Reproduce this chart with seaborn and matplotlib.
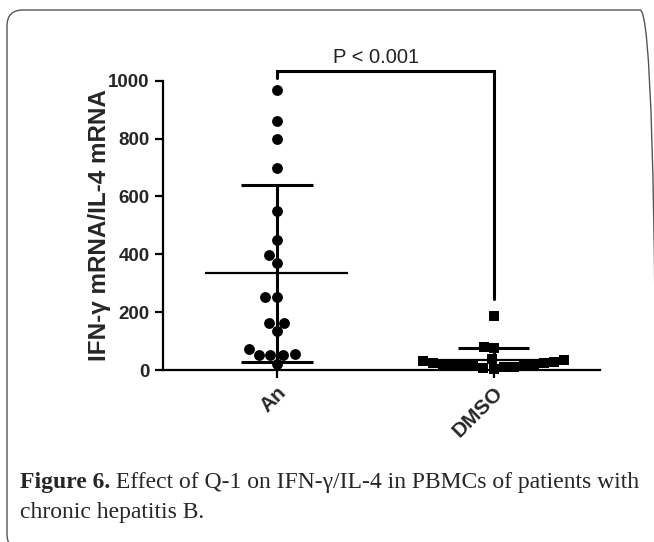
import matplotlib
matplotlib.use("Agg")
import matplotlib.pyplot as plt
import seaborn as sns
import numpy as np
import pandas as pd
from matplotlib.patches import FancyBboxPatch
from matplotlib.transforms import IdentityTransform

# values
groups = ["An", "DMSO"]
an_values = [968, 862, 798, 699, 550, 449, 397, 369, 253, 253,
             164, 164, 136, 71, 55, 52, 52, 52, 21]
dmso_values = [187, 80, 75, 38, 35, 30, 28, 25, 25, 22,
               20, 20, 18, 15, 15, 12, 10, 8, 5]
y_ticks = [0, 200, 400, 600, 800, 1000]
p_text = "P < 0.001"
y_label = "IFN-γ mRNA/IL-4 mRNA"
caption_bold = "Figure 6."
caption_line1 = " Effect of Q-1 on IFN-γ/IL-4 in PBMCs of patients with"
caption_line2 = "chronic hepatitis B."

df = pd.DataFrame({
    "group": ["An"] * len(an_values) + ["DMSO"] * len(dmso_values),
    "value": an_values + dmso_values,
})

sns.set_style("ticks")
plt.rcParams["font.family"] = ["Liberation Sans", "DejaVu Sans"]

fig = plt.figure(figsize=(6.54, 5.42), dpi=100)
fig.patch.set_facecolor("white")
ax = fig.add_axes([0.2492, 0.3173, 0.668, 0.5338])
ax.set_facecolor("white")

# scatter columns
sns.swarmplot(data=df[df.group == "An"], x="group", y="value", order=groups,
              marker="o", size=7.8, color="black", linewidth=0, ax=ax,
              clip_on=False, zorder=3)
sns.swarmplot(data=df[df.group == "DMSO"], x="group", y="value", order=groups,
              marker="s", size=7.0, color="black", linewidth=0, ax=ax,
              clip_on=False, zorder=3)

# mean and SD
for i, vals in enumerate([an_values, dmso_values]):
    m = np.mean(vals)
    s = np.std(vals, ddof=1)
    ax.hlines(m, i - 0.33, i + 0.33, color="black", lw=1.6, zorder=4)
    ax.vlines(i, max(m - s, 0), m + s, color="black", lw=2.2, zorder=4)
    ax.hlines([m - s, m + s], i - 0.165, i + 0.165, color="black", lw=2.2, zorder=4)

# significance bracket
ax.plot([0, 0, 1, 1], [1009, 1035, 1035, 245], color="black", lw=2.2,
        clip_on=False, solid_joinstyle="miter")
ax.text(0.46, 1061, p_text, ha="center", va="baseline", fontsize=14.5,
        color="#222222")

ax.set_xlim(-0.525, 1.49)
ax.set_ylim(0, 1000)
ax.set_yticks(y_ticks)
ax.set_xlabel("")
ax.set_ylabel(y_label, fontsize=17.5, fontweight="bold")
ax.yaxis.set_label_coords(-0.12, 0.5)
sns.despine(ax=ax)
for sp in ["left", "bottom"]:
    ax.spines[sp].set_linewidth(1.6)
    ax.spines[sp].set_color("black")
ax.tick_params(axis="both", width=1.6, length=6, color="black")
ax.tick_params(axis="y", labelsize=13.5)
ax.tick_params(axis="x", labelsize=15)
for lab in ax.get_yticklabels():
    lab.set_fontweight("bold")
for lab in ax.get_xticklabels():
    lab.set_fontweight("bold")
    lab.set_rotation(45)
    lab.set_ha("right")
    lab.set_rotation_mode("anchor")

# rounded frame around the figure
frame = FancyBboxPatch((7, -8), 649, 540, boxstyle="round,pad=0,rounding_size=16",
                       transform=IdentityTransform(), fill=False,
                       edgecolor="#555555", lw=1.0)
fig.patches.append(frame)

# caption
serif = ["Liberation Serif", "DejaVu Serif"]
t1 = fig.text(20 / 654, 1 - 488 / 542, caption_bold, fontsize=17,
              fontweight="bold", family=serif, va="baseline")
fig.canvas.draw()
bb = t1.get_window_extent(renderer=fig.canvas.get_renderer())
fig.text(bb.x1 / 654, 1 - 488 / 542, caption_line1, fontsize=17,
         family=serif, va="baseline")
fig.text(20 / 654, 1 - 518 / 542, caption_line2, fontsize=17,
         family=serif, va="baseline")

fig.savefig("out.png", dpi=100, facecolor="white")
